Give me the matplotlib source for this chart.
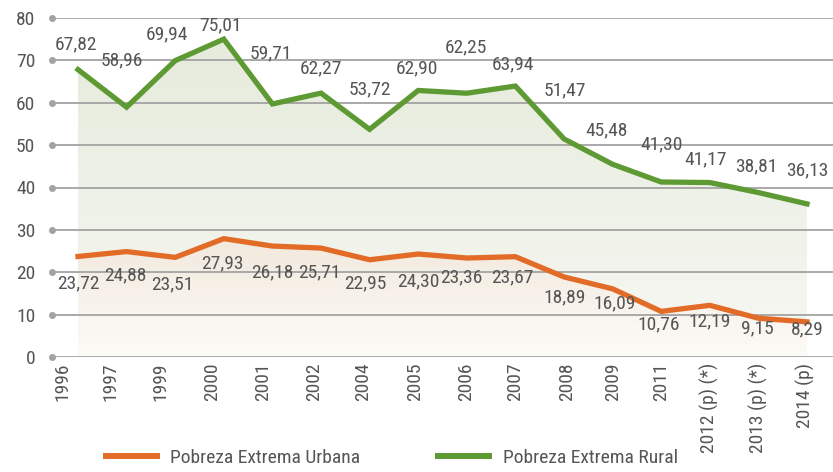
import numpy as np
import matplotlib.pyplot as plt
from matplotlib.colors import LinearSegmentedColormap

plt.rcParams['font.family'] = ['Roboto Condensed', 'Liberation Sans Narrow',
                               'Roboto', 'DejaVu Sans']

# --- data ---
years = ['1996', '1997', '1999', '2000', '2001', '2002', '2004', '2005',
         '2006', '2007', '2008', '2009', '2011', '2012 (p) (*)',
         '2013 (p) (*)', '2014 (p)']
rural = [67.82, 58.96, 69.94, 75.01, 59.71, 62.27, 53.72, 62.90,
         62.25, 63.94, 51.47, 45.48, 41.30, 41.17, 38.81, 36.13]
urbana = [23.72, 24.88, 23.51, 27.93, 26.18, 25.71, 22.95, 24.30,
          23.36, 23.67, 18.89, 16.09, 10.76, 12.19, 9.15, 8.29]

# label offsets in pixels (dx, dy)
rural_dx = [-2, -5, -8, -3, -2, 0, 0, -1, -1, -2, 1, -6, 0, -4, -2, 0]
rural_dy = [25, 47, 26, 14, 51, 25, 40, 22, 46, 22, 49, 34, 38, 23, 26, 34]
urb_dx = [0, -1, -3, -1, 0, -2, -4, 0, -5, -3, 1, 2, -3, 0, -1, 0]
urb_dy = [-27, -24, -27, -25, -26, -24, -24, -27, -19, -21, -20, -15, -13, -16, -10, -7]
# the category labels drift slightly left of the points
tick_shift_px = [-16, -16, -15, -12, -9, -7, -6, -3, -1, 0, 3, 1, 0, 0, 0, -2]

GREEN = '#5e9a34'
ORANGE = '#e26c27'
TEXT = '#555555'
GRID = '#a3a3a3'

fig = plt.figure(figsize=(8.33, 4.72), dpi=100)
ax = fig.add_axes([52 / 833, 115 / 472, (833 - 52) / 833, (357 - 18) / 472])

x = np.arange(len(years))
px_per_unit = 48.6
ax.set_xlim(-26 / px_per_unit, len(years) - 1 + 26 / px_per_unit)
ax.set_ylim(0, 80)

# grid + dots at left end
yt = np.arange(0, 81, 10)
for y in yt:
    ax.axhline(y, color=GRID, lw=1.3, zorder=1)
ax.plot([ax.get_xlim()[0]] * len(yt), yt, 'o', ms=4, color=GRID,
        clip_on=False, zorder=2)


def gradient_fill(vals, c_top, c_bot, ymax, z):
    poly = ax.fill_between(x, vals, 0, facecolor='none', edgecolor='none')
    cmap = LinearSegmentedColormap.from_list('g', [c_bot, c_top])
    grad = np.linspace(0, 1, 256).reshape(-1, 1)
    im = ax.imshow(grad, cmap=cmap, aspect='auto', origin='lower',
                   extent=[x[0], x[-1], 0, ymax], zorder=z)
    im.set_clip_path(poly.get_paths()[0], transform=ax.transData)


gradient_fill(rural, '#e6ebdc', '#f7f8f3', max(rural), 0.5)
gradient_fill(urbana, '#f2e9dd', '#fdfbf8', max(urbana), 0.6)

ax.plot(x, rural, color=GREEN, lw=3.8, solid_joinstyle='miter', zorder=3,
        label='Pobreza Extrema Rural')
ax.plot(x, urbana, color=ORANGE, lw=3.8, solid_joinstyle='miter', zorder=3,
        label='Pobreza Extrema Urbana')

for i, v in enumerate(rural):
    ax.annotate(f'{v:.2f}'.replace('.', ','), (x[i], v),
                xytext=(rural_dx[i], rural_dy[i]), textcoords='offset pixels',
                ha='center', va='center', fontsize=14, color=TEXT, zorder=4)
for i, v in enumerate(urbana):
    ax.annotate(f'{v:.2f}'.replace('.', ','), (x[i], v),
                xytext=(urb_dx[i], urb_dy[i]), textcoords='offset pixels',
                ha='center', va='center', fontsize=14, color=TEXT, zorder=4)

ax.set_yticks(yt)
ax.set_yticklabels([str(v) for v in yt])
ax.set_xticks(x + np.array(tick_shift_px) / px_per_unit)
ax.set_xticklabels(years, rotation=90, va='top', ha='center')
ax.tick_params(axis='y', length=0, pad=12, labelsize=14, labelcolor=TEXT)
ax.tick_params(axis='x', length=0, pad=4, labelsize=14, labelcolor=TEXT)
for s in ax.spines.values():
    s.set_visible(False)

h, l = ax.get_legend_handles_labels()
leg = fig.legend(h[::-1], l[::-1], loc='center', ncol=2,
                 bbox_to_anchor=(392 / 833, 1 - 458 / 472), frameon=False,
                 fontsize=14, handlelength=2.6, handletextpad=0.7,
                 columnspacing=4.0, labelcolor=TEXT)
for line in leg.get_lines():
    line.set_linewidth(4.3)

fig.savefig('out.png', dpi=100)
